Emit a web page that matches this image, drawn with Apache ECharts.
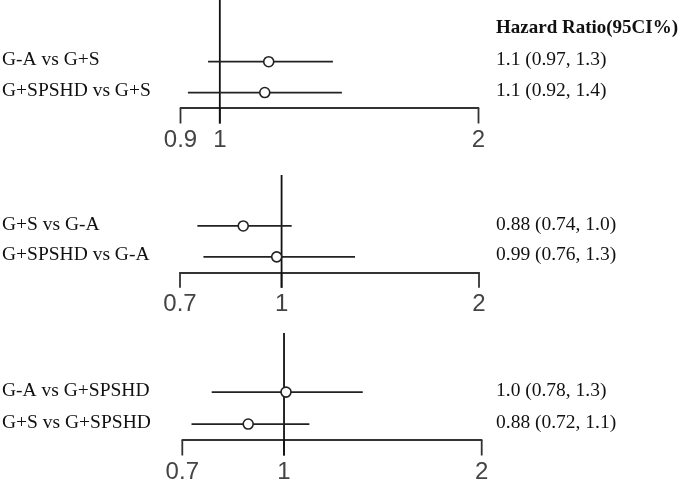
<!DOCTYPE html>
<html><head><meta charset="utf-8">
<script src="https://cdn.jsdelivr.net/npm/echarts@6/dist/echarts.min.js"></script>
<style>html,body{margin:0;padding:0;background:#fff}#c{width:685px;height:483px}</style>
</head><body><div id="c"></div>
<script>
// ---- data ----
const headerText = 'Hazard Ratio(95CI%)';

const p1Labels = ['G-A vs G+S', 'G+SPSHD vs G+S'];
const p1HR = [1.14, 1.128];
const p1Lo = [0.969, 0.918];
const p1Hi = [1.354, 1.387];
const p1Text = ['1.1 (0.97, 1.3)', '1.1 (0.92, 1.4)'];
const p1Ticks = [0.9, 1, 2];
const p1TickLabels = ['0.9', '1', '2'];

const p2Labels = ['G+S vs G-A', 'G+SPSHD vs G-A'];
const p2HR = [0.874, 0.983];
const p2Lo = [0.744, 0.760];
const p2Hi = [1.036, 1.294];
const p2Text = ['0.88 (0.74, 1.0)', '0.99 (0.76, 1.3)'];
const p2Ticks = [0.7, 1, 2];
const p2TickLabels = ['0.7', '1', '2'];

const p3Labels = ['G-A vs G+SPSHD', 'G+S vs G+SPSHD'];
const p3HR = [1.007, 0.882];
const p3Lo = [0.776, 0.723];
const p3Hi = [1.318, 1.093];
const p3Text = ['1.0 (0.78, 1.3)', '0.88 (0.72, 1.1)'];
const p3Ticks = [0.7, 1, 2];
const p3TickLabels = ['0.7', '1', '2'];

const refValue = 1;
const rowPos = [2, 1]; // top row, bottom row

// ---- layout ----
const panels = [
  {labels: p1Labels, hr: p1HR, lo: p1Lo, hi: p1Hi, text: p1Text, ticks: p1Ticks, tickLabels: p1TickLabels,
   grid: {left: 180.5, width: 298, top: 0, height: 108}, yMin: 0.5, yMax: 4.0},
  {labels: p2Labels, hr: p2HR, lo: p2Lo, hi: p2Hi, text: p2Text, ticks: p2Ticks, tickLabels: p2TickLabels,
   grid: {left: 180, width: 299, top: 175, height: 97.3}, yMin: 0.5, yMax: 3.65},
  {labels: p3Labels, hr: p3HR, lo: p3Lo, hi: p3Hi, text: p3Text, ticks: p3Ticks, tickLabels: p3TickLabels,
   grid: {left: 182.3, width: 299.4, top: 333, height: 107}, yMin: 0.5, yMax: 3.85}
];

const serifFont = '19.5px "Liberation Serif", "Times New Roman", serif';
const tickFont = '24px "Liberation Sans", Arial, sans-serif';
const tickLen = 15.5;

const grids = [], xAxes = [], yAxes = [], series = [];
panels.forEach((p, i) => {
  grids.push(Object.assign({containLabel: false, outerBoundsMode: 'none'}, p.grid));
  xAxes.push({
    type: 'log', logBase: 10, gridIndex: i, min: p.ticks[0], max: p.ticks[p.ticks.length - 1],
    axisLine: {show: true, onZero: false, lineStyle: {color: '#333', width: 1.8}},
    axisTick: {show: false}, axisLabel: {show: false}, splitLine: {show: false}
  });
  yAxes.push({
    type: 'value', gridIndex: i, min: p.yMin, max: p.yMax, show: false,
    axisLine: {show: false}, axisTick: {show: false}, axisLabel: {show: false}, splitLine: {show: false}
  });
  // axis ticks + labels + reference line
  series.push({
    type: 'custom', xAxisIndex: i, yAxisIndex: i, clip: false, silent: true, z: 3,
    data: p.ticks.map((v, k) => [v, p.yMin, k]),
    encode: {x: 0, y: 1},
    renderItem: (params, api) => {
      const k = api.value(2);
      const pt = api.coord([api.value(0), api.value(1)]);
      return {type: 'group', children: [
        {type: 'line', shape: {x1: pt[0], y1: pt[1], x2: pt[0], y2: pt[1] + tickLen},
         style: {stroke: '#333', lineWidth: 1.8}},
        {type: 'text', style: {text: p.tickLabels[k], x: pt[0], y: pt[1] + 32,
          fill: '#444', font: tickFont, textAlign: 'center', textVerticalAlign: 'middle'}}
      ]};
    }
  });
  series.push({
    type: 'custom', xAxisIndex: i, yAxisIndex: i, clip: false, silent: true, z: 4,
    data: [[refValue, p.yMin, p.yMax]],
    encode: {x: 0, y: [1, 2]},
    renderItem: (params, api) => {
      const a = api.coord([api.value(0), api.value(2)]);
      const b = api.coord([api.value(0), api.value(1)]);
      return {type: 'line', shape: {x1: a[0], y1: a[1], x2: b[0], y2: b[1] + tickLen},
        style: {stroke: '#111', lineWidth: 1.8}};
    }
  });
  // CI lines + row texts
  series.push({
    type: 'custom', xAxisIndex: i, yAxisIndex: i, clip: false, silent: true, z: 5,
    data: p.hr.map((v, j) => [p.lo[j], p.hi[j], rowPos[j], j]),
    encode: {x: [0, 1], y: 2},
    renderItem: (params, api) => {
      const j = api.value(3);
      const a = api.coord([api.value(0), api.value(2)]);
      const b = api.coord([api.value(1), api.value(2)]);
      const ty = a[1] - 1.5;
      return {type: 'group', children: [
        {type: 'line', shape: {x1: a[0], y1: a[1], x2: b[0], y2: b[1]},
         style: {stroke: '#222', lineWidth: 1.8}},
        {type: 'text', style: {text: p.labels[j], x: 2, y: ty, fill: '#111', font: serifFont,
          textAlign: 'left', textVerticalAlign: 'middle'}},
        {type: 'text', style: {text: p.text[j], x: 496, y: ty, fill: '#111', font: serifFont,
          textAlign: 'left', textVerticalAlign: 'middle'}}
      ]};
    }
  });
  // point estimates
  series.push({
    type: 'scatter', xAxisIndex: i, yAxisIndex: i, silent: true, z: 6,
    symbol: 'circle', symbolSize: 10,
    itemStyle: {color: '#fff', borderColor: '#222', borderWidth: 1.6, opacity: 1},
    emphasis: {disabled: true},
    data: p.hr.map((v, j) => [v, rowPos[j]])
  });
});

const chart = echarts.init(document.getElementById('c'), null, {renderer: 'canvas'});
chart.setOption({
  animation: false,
  backgroundColor: '#fff',
  grid: grids, xAxis: xAxes, yAxis: yAxes, series: series,
  graphic: [{
    type: 'text', left: 496, top: 18.3, silent: true,
    style: {text: headerText, fill: '#111', font: 'bold 19px "Liberation Serif", "Times New Roman", serif',
      textAlign: 'left', textVerticalAlign: 'middle'}
  }]
});
</script></body></html>
